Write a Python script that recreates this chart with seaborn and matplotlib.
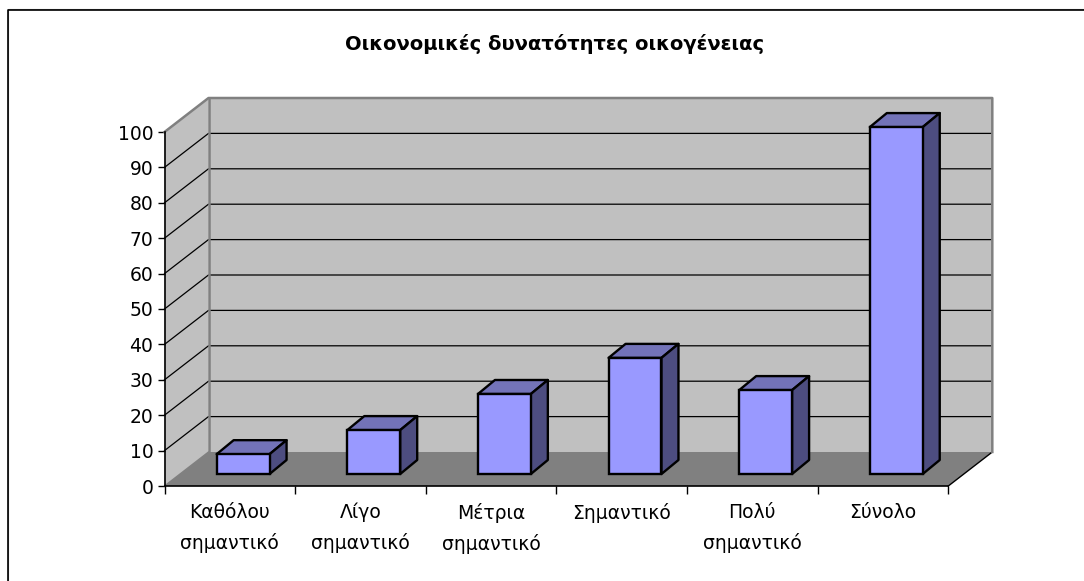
import matplotlib
matplotlib.use("Agg")
import pandas as pd
import seaborn as sns
import matplotlib.pyplot as plt
from matplotlib.patches import Polygon
from matplotlib.lines import Line2D

kategories = ["Καθόλου\nσημαντικό", "Λίγο\nσημαντικό", "Μέτρια\nσημαντικό",
              "Σημαντικό", "Πολύ\nσημαντικό", "Σύνολο"]
pososta = [5.6, 12.4, 22.6, 32.8, 23.7, 98.0]
y_ticks = [0, 10, 20, 30, 40, 50, 60, 70, 80, 90, 100]
titlos = "Οικονομικές δυνατότητες οικογένειας"

W, H = 1084, 581
X0, X1, Y0, Y100 = 164.5, 948.3, 486.0, 132.0
PX_X = (X1 - X0) / len(kategories)
PX_Y = (Y0 - Y100) / 100

# depth of the fake 3d box, in data units
wall_dx, wall_dy = 44 / PX_X, 34 / PX_Y
bar_sx, bar_sy = 13.3 / PX_X, 12 / PX_Y
bar_dx, bar_dy = 17 / PX_X, 14 / PX_Y

plt.rcParams['font.family'] = ['DejaVu Sans']

fig = plt.figure(figsize=(W / 100, H / 100), dpi=100)
ax = fig.add_axes([X0 / W, (H - Y0) / H, (X1 - X0) / W, (Y0 - Y100) / H])

df = pd.DataFrame({'kat': kategories, 'val': pososta})
sns.barplot(data=df, x='kat', y='val', color='#9999ff', saturation=1, width=0.405,
            edgecolor='black', linewidth=1.7, ax=ax, zorder=5)
ax.set_xlim(-0.5, 5.5)
ax.set_ylim(0, 100)
ax.patch.set_visible(False)
for s in ['top', 'right']:
    ax.spines[s].set_visible(False)
ax.spines['left'].set_linewidth(1.2)
ax.spines['bottom'].set_linewidth(1.2)

# walls and floor
l, r = -0.5, 5.5
top = 100
wall_kw = dict(clip_on=False, zorder=1, linewidth=0)
ax.add_patch(Polygon([(l, 0), (l + wall_dx, wall_dy), (l + wall_dx, top + wall_dy), (l, top)], fc='#c0c0c0', **wall_kw))
ax.add_patch(Polygon([(l + wall_dx, wall_dy), (r + wall_dx, wall_dy), (r + wall_dx, top + wall_dy), (l + wall_dx, top + wall_dy)], fc='#c0c0c0', **wall_kw))
ax.add_patch(Polygon([(l, 0), (r, 0), (r + wall_dx, wall_dy), (l + wall_dx, wall_dy)], fc='#808080', **wall_kw))

for v in y_ticks[1:-1]:
    ax.add_line(Line2D([l, l + wall_dx, r + wall_dx], [v, v + wall_dy, v + wall_dy], color='black', lw=0.9, clip_on=False, zorder=2))
ax.add_line(Line2D([l, l + wall_dx], [0, wall_dy], color='#808080', lw=1, clip_on=False, zorder=2))
ax.add_line(Line2D([r, r + wall_dx], [0, wall_dy], color='black', lw=1, clip_on=False, zorder=2))
ax.add_line(Line2D([l, l + wall_dx, r + wall_dx, r + wall_dx], [top, top + wall_dy, top + wall_dy, wall_dy],
                   color='#808080', lw=1.8, clip_on=False, zorder=2))
ax.add_line(Line2D([l + wall_dx, l + wall_dx], [wall_dy, top + wall_dy], color='#808080', lw=1.8, clip_on=False, zorder=2))

# move the bars onto the floor and add top and side faces
edge = dict(ec='black', lw=1.7, joinstyle='round', clip_on=False, zorder=4)
for bar in ax.patches:
    if bar.get_zorder() != 5:
        continue
    bar.set_x(bar.get_x() + bar_sx)
    bar.set_y(bar_sy)
    bar.set_clip_on(False)
    x0, x1 = bar.get_x(), bar.get_x() + bar.get_width()
    y0, y1 = bar.get_y(), bar.get_y() + bar.get_height()
    ax.add_patch(Polygon([(x0, y1), (x1, y1), (x1 + bar_dx, y1 + bar_dy), (x0 + bar_dx, y1 + bar_dy)], fc='#7373b8', **edge))
    ax.add_patch(Polygon([(x1, y0), (x1 + bar_dx, y0 + bar_dy), (x1 + bar_dx, y1 + bar_dy), (x1, y1)], fc='#4d4d80', **edge))

ax.set_xlabel('')
ax.set_ylabel('')
ax.set_yticks(y_ticks)
ax.tick_params(axis='y', labelsize=13.5, length=5, width=1, pad=3, colors='black')
ax.set_xticks(range(len(kategories)), kategories)
ax.set_xticks([i - 0.5 for i in range(len(kategories) + 1)], minor=True)
ax.tick_params(axis='x', which='major', length=0, labelsize=13.5, pad=12)
ax.tick_params(axis='x', which='minor', length=6, width=1)
for t in ax.get_xticklabels():
    t.set_linespacing(1.7)
    t.set_va('top')

fig.text(555 / W, 1 - 44 / H, titlos, ha='center', va='center', fontsize=14, fontweight='bold')

# chart area frame, with the thin grey edge of the screenshot above it
fig.add_artist(Line2D([7.5 / W, 7.5 / W, 1], [0, 1 - 9.2 / H, 1 - 9.2 / H], color='#909090', lw=0.8))
fig.add_artist(Line2D([8.3 / W, 8.3 / W, 1], [0, 1 - 10.3 / H, 1 - 10.3 / H], color='black', lw=1.2))

fig.savefig('out.png', dpi=100)
